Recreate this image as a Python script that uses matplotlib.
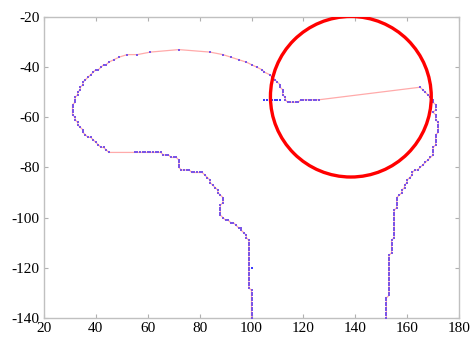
import matplotlib
matplotlib.use("Agg")
import matplotlib.pyplot as plt
from matplotlib.patches import Ellipse

# Boundary trace, left stem: bottom of x=100 upward, then the staircase to the neck
stem_left = [
    (100, -140), (100, -139), (100, -138), (100, -137), (100, -136), (100, -135),
    (100, -134), (100, -133), (100, -132), (100, -131), (100, -130), (100, -129),
    (99, -128), (99, -127), (99, -126), (99, -125), (99, -124), (99, -123),
    (99, -122), (99, -121), (99, -120), (99, -119), (99, -118), (99, -117),
    (99, -116), (99, -115), (99, -114), (99, -113), (99, -112), (99, -111),
    (99, -110), (99, -109),
    (98, -108), (98, -107), (97, -106), (96, -105), (96, -104), (95, -104),
    (94, -103), (93, -102), (92, -102), (91, -101), (90, -101), (89, -100),
    (88, -99), (88, -98), (88, -97), (88, -96), (88, -95), (89, -94),
    (89, -93), (89, -92), (88, -91), (87, -90), (87, -89), (86, -88),
    (85, -87), (84, -86), (84, -85), (83, -84), (82, -83), (81, -82),
    (80, -82), (79, -82), (78, -82), (77, -82), (76, -81), (75, -81),
    (74, -81), (73, -81), (72, -80), (72, -79), (72, -78), (72, -77),
    (71, -76), (70, -76), (69, -76), (68, -75), (67, -75), (66, -75),
    (65, -74), (64, -74), (63, -74), (62, -74), (61, -74), (60, -74),
    (59, -74), (58, -74), (57, -74), (56, -74), (55, -74),
]

# Outer arc: from the chin round the back and over the top to the inner notch
head_arc = [
    (45, -74), (44, -73), (43, -72), (42, -72), (41, -71), (40, -70),
    (39, -69), (38, -68), (37, -68), (36, -67), (35, -66), (35, -65),
    (34, -64), (33, -63), (33, -62), (32, -61), (32, -60), (31, -59),
    (31, -58), (31, -57), (31, -56), (31, -55), (32, -54), (32, -53),
    (32, -52), (33, -51), (33, -50), (34, -49), (34, -48), (35, -47),
    (35, -46), (36, -45), (37, -44), (38, -43), (39, -42), (40, -41),
    (41, -41), (42, -40), (43, -39), (44, -39), (45, -38), (47, -37),
    (49, -36), (52, -35), (56, -35), (61, -34), (72, -33), (84, -34),
    (89, -35), (92, -36), (95, -37), (98, -38), (100, -39), (102, -40),
    (104, -41), (105, -42), (107, -43), (108, -44), (109, -45), (110, -46),
    (111, -47), (111, -48), (112, -49), (112, -50), (112, -51), (113, -52),
    (113, -53), (114, -54), (115, -54), (116, -54), (117, -54), (118, -54),
    (119, -53), (120, -53), (121, -53), (122, -53), (123, -53), (124, -53),
    (125, -53), (126, -53),
]

# Right stem: from the far end of the gap down to the bottom edge
stem_right = [
    (165, -48), (166, -49), (167, -50), (168, -51), (169, -52), (170, -53),
    (170, -54), (171, -55), (171, -56), (171, -57), (170, -58), (171, -59),
    (171, -60), (171, -61), (172, -62), (172, -63), (172, -64), (172, -65),
    (172, -66), (171, -67), (171, -68), (171, -69), (171, -70), (171, -71),
    (170, -72), (170, -73), (170, -74), (170, -75), (169, -76), (168, -77),
    (167, -78), (166, -79), (165, -80), (164, -81), (163, -81), (162, -82),
    (162, -83), (161, -84), (160, -85), (160, -86), (159, -87), (159, -88),
    (158, -89), (158, -90), (157, -91), (156, -92), (156, -93), (156, -94),
    (156, -95), (156, -96), (155, -97), (155, -98), (155, -99), (155, -100),
    (155, -101), (155, -102), (155, -103), (155, -104), (155, -105), (155, -106),
    (155, -107), (155, -108), (154, -109), (154, -110), (154, -111), (154, -112),
    (154, -113), (154, -114), (153, -115), (153, -116), (153, -117), (153, -118),
    (153, -119), (153, -120), (153, -121), (153, -122), (153, -123), (153, -124),
    (153, -125), (153, -126), (153, -127), (153, -128), (153, -129), (153, -130),
    (153, -131), (152, -132), (152, -133), (152, -134), (152, -135), (152, -136),
    (152, -137), (152, -138), (152, -139), (152, -140),
]

# Points left off the ordered boundary
loose_points = [
    (105, -53), (106, -53), (107, -53), (108, -53), (109, -53), (110, -53),
    (111, -53), (100, -120),
]

# Highlighted region
ring_center = (138.3, -51.8)
ring_width = 62.0
ring_height = 64.0

plt.rcParams["font.family"] = ["Liberation Serif", "DejaVu Serif"]
plt.rcParams["axes.unicode_minus"] = False

fig = plt.figure(figsize=(4.72, 3.39), dpi=100)
ax = fig.add_axes([0.0932, 0.062, 0.8793, 0.8879])

path = stem_left + head_arc + stem_right
px, py = zip(*path)
lx, ly = zip(*loose_points)

ax.plot(px, py, color="#ffaaaa", lw=0.9, zorder=2)
ax.plot(px, py, ls="none", marker="s", ms=1.5, mew=0,
        color="#7b55e6", zorder=3)
ax.plot(lx, ly, ls="none", marker="s", ms=1.5, mew=0,
        color="#3b3bff", zorder=3)

ax.add_patch(Ellipse(ring_center, ring_width, ring_height, fill=False,
                     edgecolor="#ff0000", lw=2.4, zorder=4))

ax.set_xlim(20, 180)
ax.set_ylim(-140, -20)
ax.set_xticks(range(20, 181, 20))
ax.set_yticks(range(-140, -19, 20))
ax.tick_params(direction="in", length=3, width=0.8, color="#b0b0b0",
               labelsize=11, labelcolor="black", top=True, right=True, pad=3)
for s in ax.spines.values():
    s.set_color("#c0c0c0")
    s.set_linewidth(1.0)

fig.savefig("out.png", dpi=100)
